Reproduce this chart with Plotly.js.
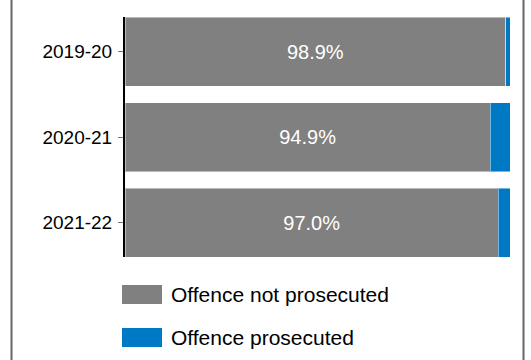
<!DOCTYPE html>
<html>
<head>
<meta charset="utf-8">
<script src="https://cdn.plot.ly/plotly-3.0.1.min.js"></script>
<style>html,body{margin:0;padding:0;background:#fff;}#chart{width:531px;height:360px;}</style>
</head>
<body>
<div id="chart"></div>
<script>
const years = ["2019-20", "2020-21", "2021-22"];
const notProsecuted = [98.9, 94.9, 97.0];
const prosecuted = [1.1, 5.1, 3.0];
const seriesNames = ["Offence not prosecuted", "Offence prosecuted"];
const seriesColors = ["#808080", "#0079C4"];

const W = 531, H = 360;
const L = 125, R = 21, T = 17, B = 103;
const pw = W - L - R, ph = H - T - B;
const px = x => (x - L) / pw;
const py = y => (H - B - y) / ph;

const font = "Arial, 'Liberation Sans', sans-serif";

const traces = [
  {
    type: "bar", orientation: "h", y: years, x: notProsecuted, name: seriesNames[0],
    marker: {color: seriesColors[0], line: {color: "rgba(255,255,255,0.45)", width: 1}},
    texttemplate: "%{x:.1f}%", textposition: "inside", insidetextanchor: "middle",
    textfont: {color: "#ffffff", size: 20, family: font},
    hoverinfo: "skip"
  },
  {
    type: "bar", orientation: "h", y: years, x: prosecuted, name: seriesNames[1],
    marker: {color: seriesColors[1], line: {color: "rgba(255,255,255,0.45)", width: 1}},
    textposition: "none",
    hoverinfo: "skip"
  }
];

const shapes = [
  {type: "line", xref: "paper", yref: "paper", x0: px(11.5), x1: px(11.5), y0: py(-20), y1: py(380), line: {color: "#666", width: 2}},
  {type: "line", xref: "paper", yref: "paper", x0: px(523.5), x1: px(523.5), y0: py(-20), y1: py(380), line: {color: "#666", width: 2}},
  {type: "rect", xref: "paper", yref: "paper", x0: px(122), x1: px(162), y0: py(304), y1: py(285), fillcolor: seriesColors[0], line: {width: 0}},
  {type: "rect", xref: "paper", yref: "paper", x0: px(122), x1: px(162), y0: py(347), y1: py(328), fillcolor: seriesColors[1], line: {width: 0}}
];

const annotations = [
  {xref: "paper", yref: "paper", x: px(169), y: py(294.5), xanchor: "left", yanchor: "middle", showarrow: false, text: seriesNames[0], font: {size: 21, color: "#000", family: font}},
  {xref: "paper", yref: "paper", x: px(169), y: py(337.5), xanchor: "left", yanchor: "middle", showarrow: false, text: seriesNames[1], font: {size: 21, color: "#000", family: font}}
];

const layout = {
  width: W, height: H,
  margin: {l: L, r: R, t: T, b: B, pad: 0},
  paper_bgcolor: "#fff", plot_bgcolor: "#fff",
  barmode: "stack", bargap: 0.193,
  showlegend: false,
  font: {family: font, color: "#000"},
  xaxis: {range: [0, 100], visible: false, fixedrange: true},
  yaxis: {
    type: "category", categoryorder: "array", categoryarray: years,
    range: [2.4035, -0.4035],
    showline: true, linecolor: "#000", linewidth: 2,
    ticks: "outside", ticklen: 5, tickcolor: "#777", tickwidth: 1,
    ticklabelstandoff: 2,
    showgrid: false, zeroline: false,
    tickfont: {size: 19, color: "#000", family: font}
  },
  shapes: shapes,
  annotations: annotations
};

Plotly.newPlot("chart", traces, layout, {displayModeBar: false, staticPlot: true});
</script>
</body>
</html>
